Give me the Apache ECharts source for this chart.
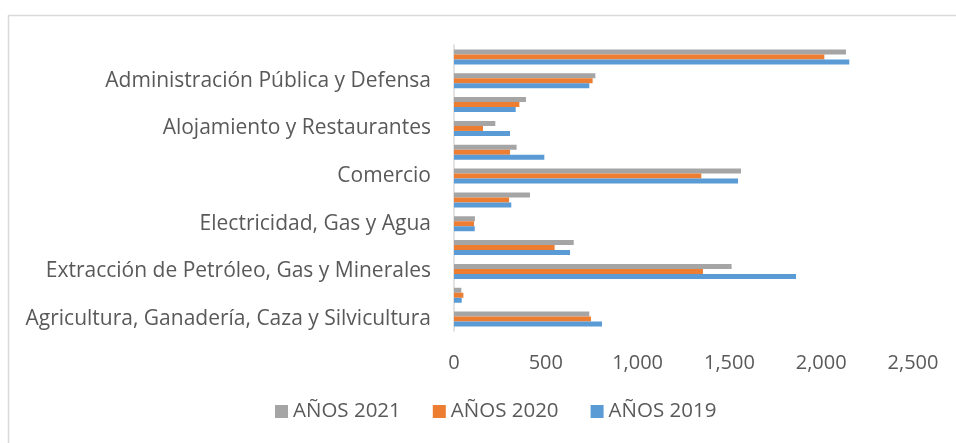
<!DOCTYPE html>
<html>
<head>
<meta charset="utf-8">
<script src="https://cdn.jsdelivr.net/npm/echarts@6/dist/echarts.min.js"></script>
<style>
  html, body { margin: 0; padding: 0; background: #fff; }
  #main { width: 956px; height: 443px; }
</style>
</head>
<body>
<div id="main"></div>
<script>
// categorias de abajo hacia arriba (las impares no se muestran, como en el original)
var categories = [
  'Agricultura, Ganadería, Caza y Silvicultura',
  'Pesca',
  'Extracción de Petróleo, Gas y Minerales',
  'Industria Manufacturera',
  'Electricidad, Gas y Agua',
  'Construcción',
  'Comercio',
  'Transporte y Comunicaciones',
  'Alojamiento y Restaurantes',
  'Establecimientos Financieros',
  'Administración Pública y Defensa',
  'Otros Servicios'
]
var anos2019 = [806, 42, 1863, 632, 113, 312, 1547, 492, 305, 336, 737, 2153]
var anos2020 = [746, 51, 1356, 548, 109, 300, 1347, 305, 158, 356, 755, 2017]
var anos2021 = [737, 40, 1512, 652, 114, 414, 1563, 341, 225, 392, 770, 2135]
var xTicks = [0, 500, 1000, 1500, 2000, 2500]

var chart = echarts.init(document.getElementById('main'))
var font = 'Open Sans'

chart.setOption({
  animation: false,
  textStyle: { fontFamily: font },
  graphic: [{
    type: 'rect',
    shape: { x: 8.5, y: 15.5, width: 960, height: 440 },
    style: { fill: 'none', stroke: '#d9d9d9', lineWidth: 1.5 },
    silent: true
  }],
  grid: { left: 454, right: 43, top: 45, bottom: 112, containLabel: false },
  legend: {
    data: ['AÑOS 2021', 'AÑOS 2020', 'AÑOS 2019'],
    bottom: 16,
    left: 270,
    itemWidth: 13,
    itemHeight: 13,
    itemGap: 32,
    icon: 'rect',
    textStyle: { fontSize: 20.5, color: '#595959', fontFamily: font }
  },
  xAxis: {
    type: 'value',
    min: xTicks[0],
    max: xTicks[xTicks.length - 1],
    interval: 500,
    axisLine: { show: false },
    axisTick: { show: false },
    splitLine: { show: false },
    axisLabel: {
      color: '#595959',
      fontSize: 20,
      margin: 22,
      formatter: function (v) { return v.toLocaleString('en-US') }
    }
  },
  yAxis: {
    type: 'category',
    data: categories,
    axisLine: { show: true, lineStyle: { color: '#d9d9d9', width: 1.5 } },
    axisTick: { show: false },
    axisLabel: { interval: 1, color: '#595959', fontSize: 21, margin: 23 }
  },
  // en barras horizontales la primera serie queda arriba
  series: [
    {
      name: 'AÑOS 2021', type: 'bar', data: anos2021,
      barWidth: 5, barGap: '0%',
      itemStyle: { color: '#A5A5A5' }
    },
    {
      name: 'AÑOS 2020', type: 'bar', data: anos2020,
      barWidth: 5, barGap: '0%',
      itemStyle: { color: '#ED7D31' }
    },
    {
      name: 'AÑOS 2019', type: 'bar', data: anos2019,
      barWidth: 5, barGap: '0%',
      itemStyle: { color: '#5B9BD5' }
    }
  ]
})
</script>
</body>
</html>
